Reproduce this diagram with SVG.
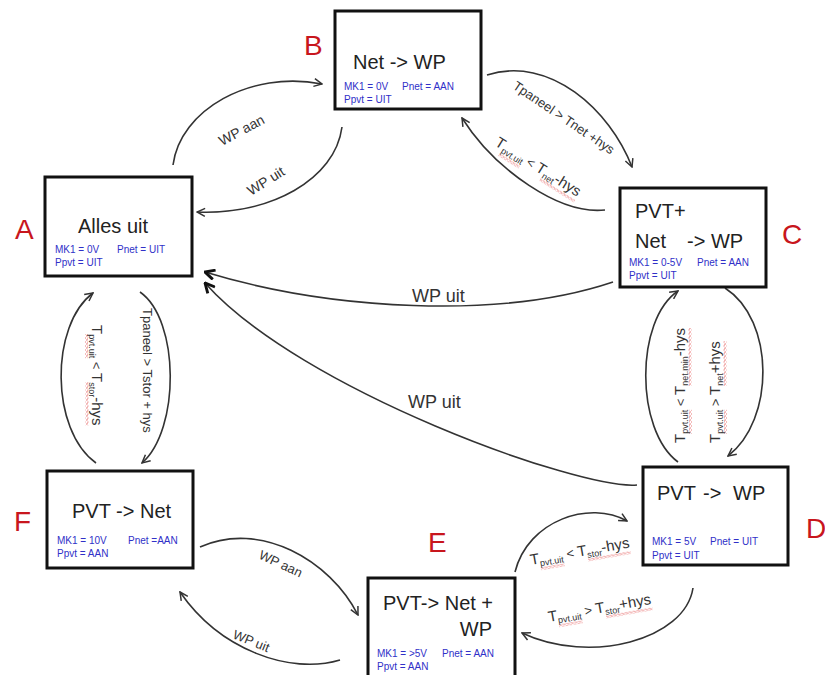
<svg xmlns="http://www.w3.org/2000/svg" width="825" height="675" viewBox="0 0 825 675">
<defs>
<marker id="ah" viewBox="0 0 10 10" refX="9" refY="5" markerWidth="10" markerHeight="10" markerUnits="userSpaceOnUse" orient="auto">
<path d="M1,1 L9,5 L1,9" fill="none" stroke="#333" stroke-width="1.5"/>
</marker>
<marker id="ahb" viewBox="0 0 10 10" refX="9" refY="5" markerWidth="12" markerHeight="12" markerUnits="userSpaceOnUse" orient="auto">
<path d="M1,1 L9,5 L1,9" fill="none" stroke="#111" stroke-width="2.4"/>
</marker>
<pattern id="wave" patternUnits="userSpaceOnUse" width="4" height="3">
<path d="M0,1.5 L1,0.5 L3,2.5 L4,1.5" fill="none" stroke="#e04040" stroke-width="0.8"/>
</pattern>
</defs>
<style>
.box{fill:#fff;stroke:#111;stroke-width:3}
.title{font-family:"Liberation Sans",Arial,sans-serif;font-size:20px;fill:#222}
.info{font-family:"Liberation Sans",Arial,sans-serif;font-size:10px;fill:#3030c8}
.letter{font-family:"Liberation Sans",Arial,sans-serif;font-size:28px;fill:#c8161d}
.edge{fill:none;stroke:#333;stroke-width:1.6;marker-end:url(#ah)}
.edgeb{fill:none;stroke:#333;stroke-width:1.6;marker-end:url(#ahb)}
.lbl{font-family:"Liberation Sans",Arial,sans-serif;font-size:13px;fill:#333}
.big{font-size:15px}
.sub{font-size:9px}
.wv{fill:url(#wave)}
</style>

<g id="connectors">
  <path class="edge" d="M173,165 C180,110 250,70 322,84"/>
  <path class="edge" d="M342,127 C335,180 270,215 197,212"/>
  <path class="edge" d="M487,75 C550,55 610,110 632,167"/>
  <path class="edge" d="M605,210 C560,215 495,170 462,118"/>
  <path class="edgeb" d="M613,282 C500,320 330,310 205,272"/>
  <path class="edgeb" d="M637,485 C580,490 300,390 205,283"/>
  <path class="edge" d="M140,292 C180,320 180,430 142,463"/>
  <path class="edge" d="M96,463 C50,430 50,325 93,293"/>
  <path class="edge" d="M725,288 C775,320 775,420 728,456"/>
  <path class="edge" d="M678,462 C635,430 635,320 678,291"/>
  <path class="edge" d="M693,588 C685,640 590,665 522,633"/>
  <path class="edge" d="M515,572 C528,520 590,500 627,521"/>
  <path class="edge" d="M200,547 C260,520 330,560 358,615"/>
  <path class="edge" d="M340,660 C290,675 220,650 180,592"/>

  <text class="lbl" transform="translate(222,146) rotate(-28)" style="font-size:14px">WP aan</text>
  <text class="lbl" transform="translate(251,196) rotate(-32)" style="font-size:14px">WP uit</text>
  <text class="lbl" transform="translate(512,88) rotate(34)">Tpaneel &gt; Tnet +hys</text>
  <g transform="translate(494,145) rotate(32)">
    <rect class="wv" x="9.2" y="4" width="24" height="3"/>
    <rect class="wv" x="57.2" y="3.5" width="40.8" height="3"/>
    <text class="lbl"><tspan class="big">T</tspan><tspan class="sub" dy="3">pvt.uit</tspan><tspan dy="-3"> &lt; </tspan><tspan class="big">T</tspan><tspan class="sub" dy="3">net</tspan><tspan class="big" dy="-3">-hys</tspan></text>
  </g>
  <text class="lbl" x="412" y="302" style="font-size:18px">WP uit</text>
  <text class="lbl" x="408" y="408" style="font-size:18px">WP uit</text>
  <text class="lbl" transform="translate(143,308) rotate(90)">Tpaneel &gt; Tstor + hys</text>
  <g transform="translate(92,325) rotate(90)">
    <rect class="wv" x="9.2" y="4" width="24" height="3"/>
    <rect class="wv" x="57.2" y="3.5" width="43.3" height="3"/>
    <text class="lbl"><tspan class="big">T</tspan><tspan class="sub" dy="3">pvt.uit</tspan><tspan dy="-3"> &lt; </tspan><tspan class="big">T</tspan><tspan class="sub" dy="3">stor</tspan><tspan class="big" dy="-3">-hys</tspan></text>
  </g>
  <g transform="translate(685,443) rotate(-90)">
    <rect class="wv" x="9.2" y="4" width="24" height="3"/>
    <rect class="wv" x="57.2" y="3.5" width="57.8" height="3"/>
    <text class="lbl"><tspan class="big">T</tspan><tspan class="sub" dy="3">pvt.uit</tspan><tspan dy="-3"> &lt; </tspan><tspan class="big">T</tspan><tspan class="sub" dy="3">net.min</tspan><tspan class="big" dy="-3">-hys</tspan></text>
  </g>
  <g transform="translate(720,443) rotate(-90)">
    <rect class="wv" x="9.2" y="4" width="24" height="3"/>
    <rect class="wv" x="57.2" y="3.5" width="44.6" height="3"/>
    <text class="lbl"><tspan class="big">T</tspan><tspan class="sub" dy="3">pvt.uit</tspan><tspan dy="-3"> &gt; </tspan><tspan class="big">T</tspan><tspan class="sub" dy="3">net</tspan><tspan class="big" dy="-3">+hys</tspan></text>
  </g>
  <g transform="translate(531,565) rotate(-10)">
    <rect class="wv" x="9.2" y="4" width="24" height="3"/>
    <rect class="wv" x="57.2" y="3.5" width="43.3" height="3"/>
    <text class="lbl"><tspan class="big">T</tspan><tspan class="sub" dy="3">pvt.uit</tspan><tspan dy="-3"> &lt; </tspan><tspan class="big">T</tspan><tspan class="sub" dy="3">stor</tspan><tspan class="big" dy="-3">-hys</tspan></text>
  </g>
  <g transform="translate(549,622) rotate(-10)">
    <rect class="wv" x="9.2" y="4" width="24" height="3"/>
    <rect class="wv" x="57.2" y="3.5" width="47.1" height="3"/>
    <text class="lbl"><tspan class="big">T</tspan><tspan class="sub" dy="3">pvt.uit</tspan><tspan dy="-3"> &gt; </tspan><tspan class="big">T</tspan><tspan class="sub" dy="3">stor</tspan><tspan class="big" dy="-3">+hys</tspan></text>
  </g>
  <text class="lbl" transform="translate(258,558) rotate(25)">WP aan</text>
  <text class="lbl" transform="translate(232,638) rotate(22)">WP uit</text>
</g>

<g id="nodeA">
  <rect class="box" x="45" y="177" width="147" height="99"/>
  <text class="letter" x="15" y="239">A</text>
  <text class="title" x="78" y="233">Alles uit</text>
  <text class="info" x="55" y="253">MK1 = 0V</text>
  <text class="info" x="117" y="253">Pnet = UIT</text>
  <text class="info" x="55" y="266">Ppvt = UIT</text>
</g>
<g id="nodeB">
  <rect class="box" x="335" y="11" width="146" height="98"/>
  <text class="letter" x="304" y="55">B</text>
  <text class="title" x="353" y="69">Net -&gt; WP</text>
  <text class="info" x="344" y="90">MK1 = 0V</text>
  <text class="info" x="402" y="90">Pnet = AAN</text>
  <text class="info" x="344" y="103">Ppvt = UIT</text>
</g>
<g id="nodeC">
  <rect class="box" x="620" y="188" width="146" height="99"/>
  <text class="letter" x="782" y="244">C</text>
  <text class="title" x="635" y="218">PVT+</text>
  <text class="title" y="248"><tspan x="635">Net</tspan><tspan x="687">-&gt; WP</tspan></text>
  <text class="info" x="629" y="266">MK1 = 0-5V</text>
  <text class="info" x="697" y="266">Pnet = AAN</text>
  <text class="info" x="629" y="279">Ppvt = UIT</text>
</g>
<g id="nodeD">
  <rect class="box" x="643" y="467" width="145" height="98"/>
  <text class="letter" x="806" y="538">D</text>
  <text class="title" y="500"><tspan x="657">PVT</tspan><tspan x="703">-&gt;</tspan><tspan x="733">WP</tspan></text>
  <text class="info" x="652" y="545">MK1 = 5V</text>
  <text class="info" x="710" y="545">Pnet = UIT</text>
  <text class="info" x="652" y="559">Ppvt = UIT</text>
</g>
<g id="nodeE">
  <rect class="box" x="368" y="578" width="147" height="100"/>
  <text class="letter" x="428" y="552">E</text>
  <text class="title" x="383" y="610">PVT-&gt; Net +</text>
  <text class="title" x="492" y="636" text-anchor="end">WP</text>
  <text class="info" x="377" y="657">MK1 = &gt;5V</text>
  <text class="info" x="442" y="657">Pnet = AAN</text>
  <text class="info" x="377" y="670">Ppvt = AAN</text>
</g>
<g id="nodeF">
  <rect class="box" x="47" y="471" width="146" height="97"/>
  <text class="letter" x="14" y="531">F</text>
  <text class="title" x="72" y="518">PVT -&gt; Net</text>
  <text class="info" x="57" y="544">MK1 = 10V</text>
  <text class="info" x="128" y="544">Pnet =AAN</text>
  <text class="info" x="57" y="557">Ppvt = AAN</text>
</g>
</svg>
